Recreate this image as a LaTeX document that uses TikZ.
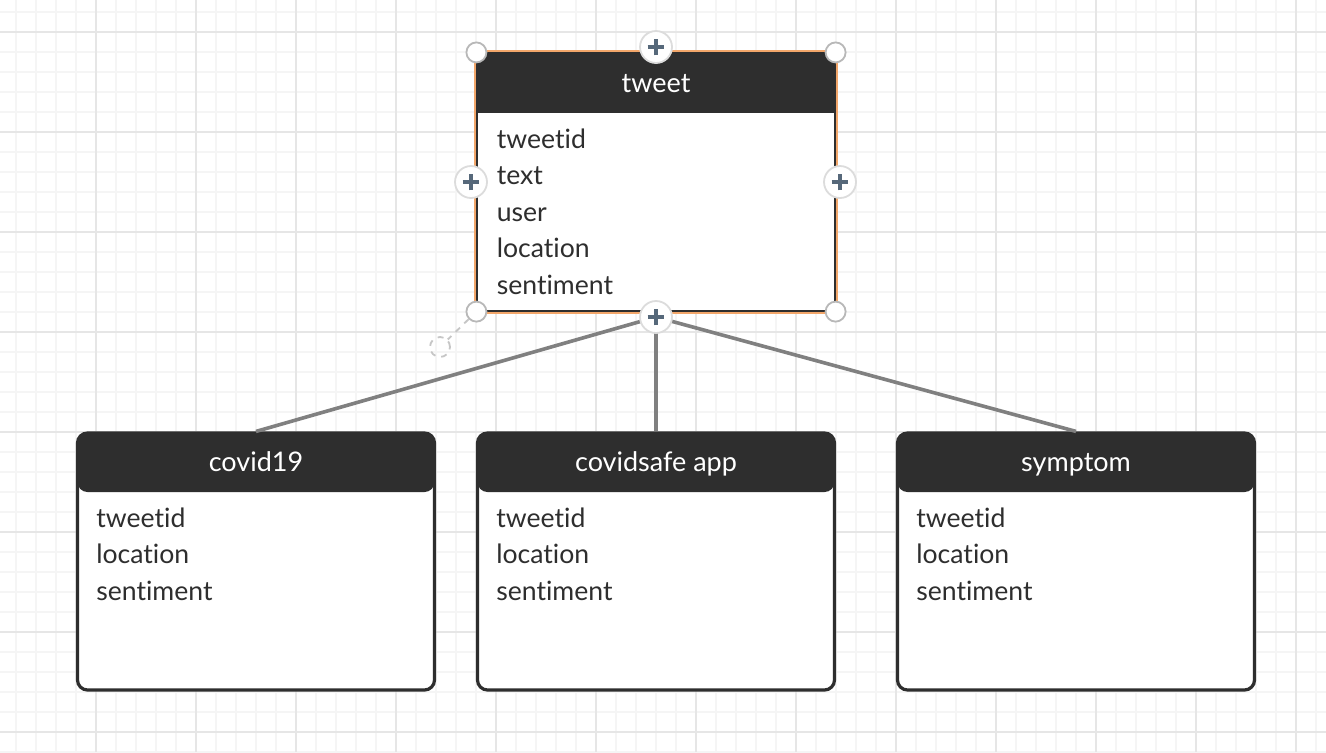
\documentclass[tikz,border=0pt]{standalone}
\usepackage{fontspec}
\setmainfont{Lato}[Ligatures=NoCommon]
\usepackage{tikz}
\usetikzlibrary{positioning, calc}

\definecolor{boxdark}{HTML}{2E2E2E}
\definecolor{gridminor}{HTML}{F5F5F5}
\definecolor{gridmajor}{HTML}{E6E6E6}
\definecolor{linkgray}{HTML}{808080}
\definecolor{selorange}{HTML}{F2A66A}
\definecolor{handlegray}{HTML}{DCDCDC}
\definecolor{cornergray}{HTML}{B8B8B8}
\definecolor{plusslate}{HTML}{56687A}
\definecolor{fieldtext}{HTML}{2E2E2E}

\tikzset{
  minorline/.style={gridminor, line width=0.9pt},
  majorline/.style={gridmajor, line width=1pt},
  erbox/.style={rectangle, draw=boxdark, fill=white, line width=1.6pt,
    rounded corners=5pt, minimum width=178.5pt, minimum height=128.5pt, inner sep=0,
    path picture={\fill[boxdark] (path picture bounding box.north west)
      rectangle ([yshift=-29.5pt]path picture bounding box.north east);}},
  selbox/.style={rectangle, draw=boxdark, fill=white, line width=0.6pt,
    minimum width=179pt, minimum height=129pt, inner sep=0,
    path picture={\fill[boxdark] (path picture bounding box.north west)
      rectangle ([yshift=-30pt]path picture bounding box.north east);}},
  boxtitle/.style={anchor=base, text=white, font=\fontsize{13.5}{16}\selectfont},
  field/.style={anchor=base west, text=fieldtext, inner sep=0, font=\fontsize{13.3}{16}\selectfont},
  link/.style={linkgray, line width=1.8pt},
  cornerhandle/.style={circle, draw=cornergray, fill=white, line width=0.9pt,
    minimum size=10pt, inner sep=0},
  addhandle/.style={circle, draw=handlegray, fill=white, line width=0.9pt,
    minimum size=16pt, inner sep=0,
    path picture={\draw[plusslate, line width=2pt]
      ([xshift=-4.2pt]path picture bounding box.center) -- ([xshift=4.2pt]path picture bounding box.center)
      ([yshift=-4.2pt]path picture bounding box.center) -- ([yshift=4.2pt]path picture bounding box.center);}},
}

\begin{document}
\begin{tikzpicture}[x=0.5pt, y=-0.5pt]
  \useasboundingbox (0,0) rectangle (1326,752);

  % Background grid
  \fill[white] (0,0) rectangle (1326,752);
  \foreach \x in {16,36,...,1326} \draw[minorline] (\x,0) -- (\x,752);
  \foreach \y in {12,32,...,752} \draw[minorline] (0,\y) -- (1326,\y);
  \foreach \x in {96,196,...,1296} \draw[majorline] (\x,0) -- (\x,752);
  \foreach \y in {32,132,...,732} \draw[majorline] (0,\y) -- (1326,\y);

  % Tables
  \node[selbox] (tweet) at (656,182) {};
  \draw[selorange, line width=1pt] ([shift={(-1.5,-1.5)}]tweet.north west) rectangle ([shift={(1.5,1.5)}]tweet.south east);
  \node[boxtitle] (tweet_title) at ([yshift=-20pt]tweet.north) {tweet};
  \foreach \f [count=\i] in {tweetid,text,user,location,sentiment}
    \node[field] (tweet_f\i) at ($(tweet.north west)+(20,96)+(0,{36.5*(\i-1)})$) {\f};

  \node[erbox] (covid19) at (256,561.5) {};
  \node[boxtitle] (covid19_title) at ([yshift=-20pt]covid19.north) {covid19};

  \node[erbox] (covidsafe) at (656,561.5) {};
  \node[boxtitle] (covidsafe_title) at ([yshift=-20pt]covidsafe.north) {covidsafe app};

  \node[erbox] (symptom) at (1076,561.5) {};
  \node[boxtitle] (symptom_title) at ([yshift=-20pt]symptom.north) {symptom};

  \foreach \t in {covid19,covidsafe,symptom}
    \foreach \f [count=\i] in {tweetid,location,sentiment}
      \node[field] (\t_f\i) at ($(\t.north west)+(20,96)+(0,{36.5*(\i-1)})$) {\f};

  % Links from the selected table
  \coordinate (link_start) at (656,317);
  \draw[link] (link_start) -- (covid19.north);
  \draw[link] (link_start) -- (covidsafe.north);
  \draw[link] (link_start) -- (symptom.north);

  % Handles on the selected table
  \node[addhandle] (h_bottom) at (link_start) {};
  \node[addhandle] (h_top) at (656,47) {};
  \node[addhandle] (h_left) at (471,182) {};
  \node[addhandle] (h_right) at (840,182) {};

  \node[cornerhandle] (c_nw) at (tweet.north west) {};
  \node[cornerhandle] (c_ne) at (tweet.north east) {};
  \node[cornerhandle] (c_sw) at (tweet.south west) {};
  \node[cornerhandle] (c_se) at (tweet.south east) {};

  % Rotation handle
  \node[cornerhandle, draw=cornergray!80, dashed, fill=none] (rot) at (440,347) {};
  \draw[cornergray!80, dashed, line width=0.9pt] (c_sw) -- (rot);
\end{tikzpicture}
\end{document}
